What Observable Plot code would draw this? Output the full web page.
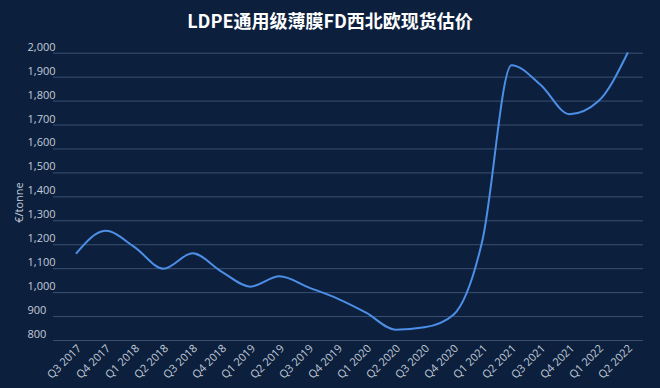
<!DOCTYPE html>
<html>
<head>
<meta charset="utf-8">
<script src="https://cdn.jsdelivr.net/npm/d3@7"></script>
<script src="https://cdn.jsdelivr.net/npm/@observablehq/plot@0.6"></script>
<style>
  html, body { margin: 0; padding: 0; background: #0c203e; width: 660px; height: 388px; overflow: hidden; }
  #title { height: 38px; line-height: 40px; text-align: center; color: #ffffff; font-family: "Noto Sans CJK SC", "Noto Sans", sans-serif; font-weight: 700; font-size: 18px; }
</style>
</head>
<body>
<div id="title">LDPE通用级薄膜FD西北欧现货估价</div>
<div id="chart"></div>
<script>
const quarters = ["Q3 2017","Q4 2017","Q1 2018","Q2 2018","Q3 2018","Q4 2018","Q1 2019","Q2 2019","Q3 2019","Q4 2019","Q1 2020","Q2 2020","Q3 2020","Q4 2020","Q1 2021","Q2 2021","Q3 2021","Q4 2021","Q1 2022","Q2 2022"];
const prices = [1165,1258,1190,1100,1164,1088,1025,1068,1022,975,915,845,855,908,1220,1950,1868,1745,1800,2000];
const yTicks = [800,900,1000,1100,1200,1300,1400,1500,1600,1700,1800,1900,2000];
const yLabel = "€/tonne";

const data = quarters.map((q, i) => ({quarter: q, price: prices[i]}));
const fmt = d3.format(",");

const chart = Plot.plot({
  width: 660,
  height: 350,
  marginLeft: 53,
  marginRight: 17,
  marginTop: 10,
  marginBottom: 48,
  style: { background: "transparent", color: "#c3cbd8", fontFamily: "'Open Sans', sans-serif", fontSize: "11px" },
  x: { type: "point", domain: quarters, range: [75, 627], padding: 0 },
  y: { domain: [800, 2000], range: [302, 14.7] },
  marks: [
    Plot.gridY(yTicks, { stroke: "#3a5073", strokeOpacity: 1, strokeWidth: 1 }),
    Plot.axisY(yTicks, { anchor: "left", tickSize: 0, tickPadding: 0, textAnchor: "start", dx: -26, dy: -6, tickFormat: fmt, label: null, fill: "#c3cbd8" }),
    Plot.axisX({ anchor: "bottom", tickSize: 0, tickPadding: 6, tickRotate: -45, dx: 3, label: null, fill: "#c3cbd8" }),
    Plot.text([yLabel], { frameAnchor: "top-left", dx: 15 - 53, dy: 164 - 10, rotate: -90, textAnchor: "middle", fill: "#c3cbd8", fontSize: 11 }),
    Plot.line(data, { x: "quarter", y: "price", curve: "monotone-x", stroke: "#4d8ee6", strokeWidth: 2 })
  ]
});
document.getElementById("chart").appendChild(chart);
</script>
</body>
</html>
